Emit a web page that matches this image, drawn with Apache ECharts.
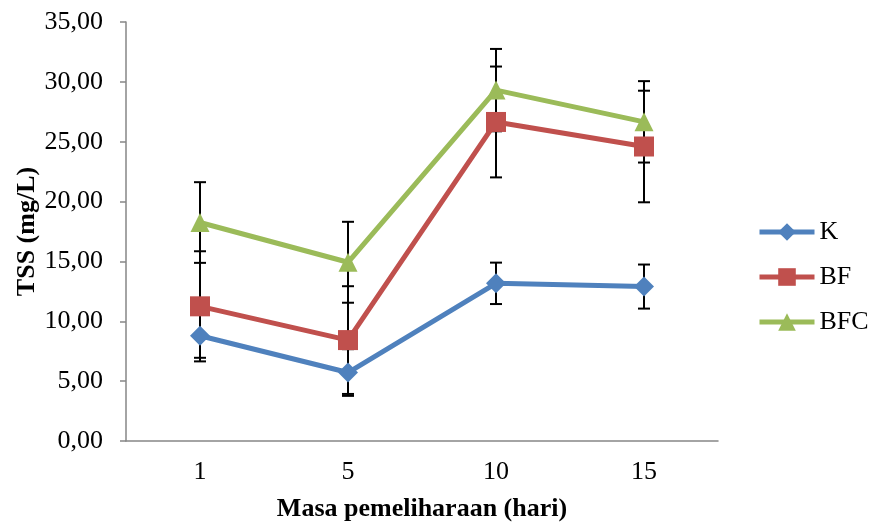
<!DOCTYPE html>
<html>
<head>
<meta charset="utf-8">
<script src="https://cdn.jsdelivr.net/npm/echarts@6/dist/echarts.min.js"></script>
<style>
  html, body { margin: 0; padding: 0; background: #fff; }
  #chart { width: 869px; height: 524px; }
</style>
</head>
<body>
<div id="chart"></div>
<script>
// data
var days = ['1', '5', '10', '15'];
var kVals = [8.79, 5.72, 13.17, 12.90];
var bfVals = [11.25, 8.43, 26.65, 24.60];
var bfcVals = [18.25, 14.93, 29.31, 26.66];
var kErr = [1.84, 1.95, 1.73, 1.84];
var bfErr = [4.60, 4.50, 4.63, 4.66];
var bfcErr = [3.37, 3.38, 3.44, 3.40];
var yTicks = [0, 5, 10, 15, 20, 25, 30, 35];

var font = '"Liberation Serif", "Times New Roman", serif';
var chart = echarts.init(document.getElementById('chart'));

function errData(vals, errs) {
    return vals.map(function (v, i) { return [i, v - errs[i], v + errs[i]]; });
}

function renderErr(params, api) {
    var lo = api.coord([api.value(0), api.value(1)]);
    var hi = api.coord([api.value(0), api.value(2)]);
    var w = 6;
    var st = { stroke: '#000', lineWidth: 2 };
    return {
        type: 'group',
        children: [
            { type: 'line', shape: { x1: lo[0], y1: lo[1], x2: hi[0], y2: hi[1] }, style: st },
            { type: 'line', shape: { x1: hi[0] - w, y1: hi[1], x2: hi[0] + w, y2: hi[1] }, style: st },
            { type: 'line', shape: { x1: lo[0] - w, y1: lo[1], x2: lo[0] + w, y2: lo[1] }, style: st }
        ]
    };
}

function errSeries(vals, errs) {
    return {
        type: 'custom',
        renderItem: renderErr,
        data: errData(vals, errs),
        z: 1,
        silent: true
    };
}

function lineSeries(name, vals, color, symbol, size) {
    return {
        name: name,
        type: 'line',
        data: vals,
        symbol: symbol,
        symbolSize: size,
        z: 3,
        lineStyle: { color: color, width: 5 },
        itemStyle: { color: color }
    };
}

var option = {
    animation: false,
    textStyle: { fontFamily: font },
    grid: { left: 126, right: 151, top: 22, bottom: 83, outerBoundsMode: 'none' },
    legend: {
        data: ['K', 'BF', 'BFC'],
        orient: 'vertical',
        left: 752,
        top: 214,
        itemWidth: 55,
        itemHeight: 22,
        itemGap: 19,
        lineStyle: { width: 5 },
        textStyle: { fontFamily: font, fontSize: 26, color: '#000' }
    },
    xAxis: {
        type: 'category',
        data: days,
        name: 'Masa pemeliharaan (hari)',
        nameLocation: 'middle',
        nameGap: 55,
        nameMoveOverlap: false,
        nameTextStyle: { fontFamily: font, fontSize: 26, fontWeight: 'bold', color: '#000' },
        axisLine: { lineStyle: { color: '#868686', width: 1.5 } },
        axisTick: { length: 6, lineStyle: { color: '#868686', width: 1.5 } },
        axisLabel: { fontFamily: font, fontSize: 26, color: '#000', margin: 18 }
    },
    yAxis: {
        type: 'value',
        min: yTicks[0],
        max: yTicks[yTicks.length - 1],
        interval: 5,
        name: 'TSS (mg/L)',
        nameLocation: 'middle',
        nameRotate: 90,
        nameGap: 86,
        nameMoveOverlap: false,
        nameTextStyle: { fontFamily: font, fontSize: 26, fontWeight: 'bold', color: '#000' },
        splitLine: { show: false },
        axisLine: { show: true, lineStyle: { color: '#868686', width: 1.5 } },
        axisTick: { show: true, length: 6, lineStyle: { color: '#868686', width: 1.5 } },
        axisLabel: {
            fontFamily: font, fontSize: 26, color: '#000', margin: 23,
            formatter: function (v) { return v.toFixed(2).replace('.', ','); }
        }
    },
    series: [
        errSeries(kVals, kErr),
        errSeries(bfVals, bfErr),
        errSeries(bfcVals, bfcErr),
        lineSeries('K', kVals, '#4F81BD', 'diamond', 20),
        lineSeries('BF', bfVals, '#C0504D', 'rect', 20),
        lineSeries('BFC', bfcVals, '#9BBB59', 'triangle', 19)
    ]
};

chart.setOption(option);
</script>
</body>
</html>
